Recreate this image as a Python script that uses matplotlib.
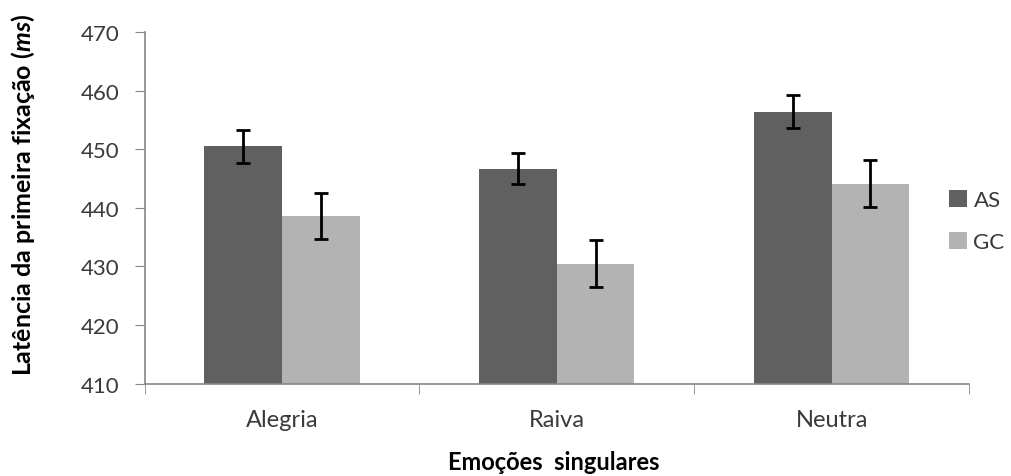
import numpy as np
import matplotlib
matplotlib.use("Agg")
import matplotlib.pyplot as plt

plt.rcParams['font.family'] = ['Lato', 'DejaVu Sans']
plt.rcParams['mathtext.fontset'] = 'custom'
plt.rcParams['mathtext.it'] = 'Lato:italic:bold'
plt.rcParams['mathtext.rm'] = 'Lato:bold'

categories = ["Alegria", "Raiva", "Neutra"]
groups = ["AS", "GC"]
as_means = [450.5, 446.7, 456.4]
as_err = [2.8, 2.6, 2.8]
gc_means = [438.6, 430.5, 444.1]
gc_err = [3.9, 4.0, 4.0]
yticks = [410, 420, 430, 440, 450, 460, 470]

text_col = "#3a3a3a"
axis_col = "#868686"
colors = ["#606060", "#b3b3b3"]

fig = plt.figure(figsize=(10.11, 4.77), dpi=100)
ax = fig.add_axes([0.1431, 0.1935, 0.8154, 0.7373])

x = np.arange(len(categories))
w = 0.2825
base = yticks[0]
for i, (means, errs) in enumerate([(as_means, as_err), (gc_means, gc_err)]):
    pos = x + (i - 0.5) * w
    ax.bar(pos, np.array(means) - base, width=w, bottom=base,
           color=colors[i], label=groups[i], zorder=2)
    ax.errorbar(pos, means, yerr=errs, fmt="none", ecolor="black",
                elinewidth=2, capsize=5, capthick=2, zorder=3)

ax.set_xlim(-0.5, len(categories) - 0.5)
ax.set_ylim(yticks[0], yticks[-1])
ax.set_yticks(yticks)
ax.set_yticklabels([str(t) for t in yticks], fontsize=16, color=text_col)
ax.set_xticks(x)
ax.set_xticklabels(categories, fontsize=17, color=text_col)
ax.tick_params(axis="x", length=0, pad=18)
ax.tick_params(axis="y", length=7, color=axis_col, pad=11)

# category boundary ticks
ax.set_xticks(np.arange(-0.5, len(categories)), minor=True)
ax.tick_params(axis="x", which="minor", length=7, color=axis_col)

for s in ["top", "right"]:
    ax.spines[s].set_visible(False)
for s in ["left", "bottom"]:
    ax.spines[s].set_color(axis_col)
    ax.spines[s].set_linewidth(1.2)

fig.text(23 / 1011, 1 - 195 / 477, "Latência da primeira fixação ($\\it{ms}$)",
         fontsize=18, fontweight="bold", color="black", rotation=90,
         ha="center", va="center")
fig.text(554 / 1011, 1 - 463 / 477, "Emoções  singulares", fontsize=17,
         fontweight="bold", color="black", ha="center", va="center")

leg = fig.legend(loc="center left", bbox_to_anchor=(949 / 1011, 1 - 222 / 477),
                 frameon=False, borderpad=0, borderaxespad=0,
                 fontsize=16, handlelength=0.8, handleheight=0.8,
                 handletextpad=0.3, labelspacing=1.0)
for t in leg.get_texts():
    t.set_color(text_col)

fig.savefig("out.png", dpi=100)
